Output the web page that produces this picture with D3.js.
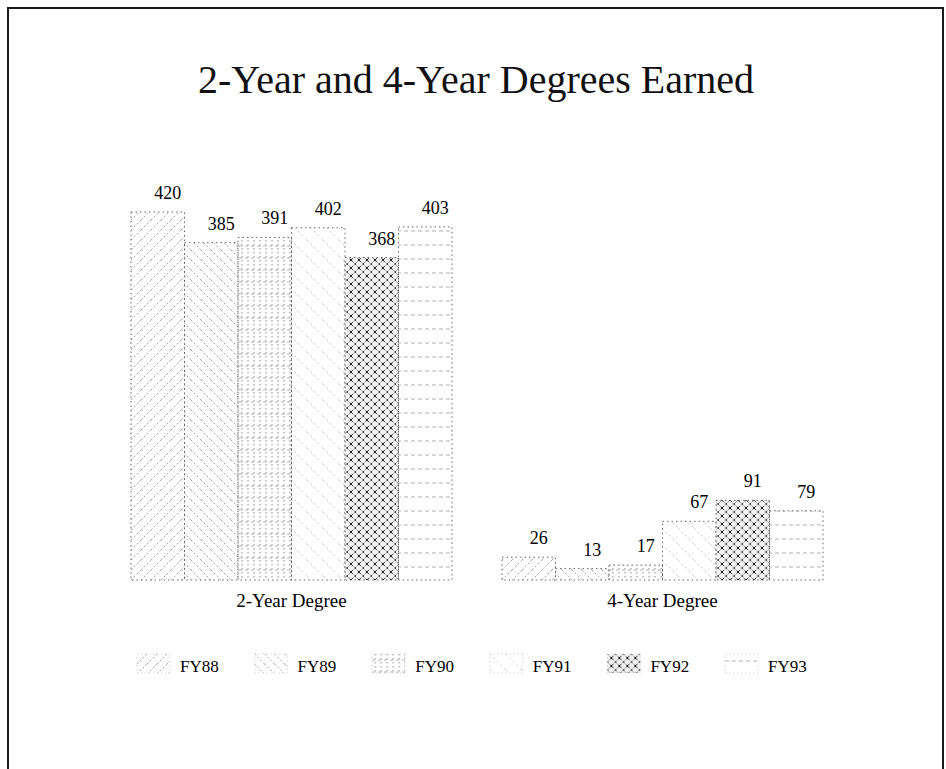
<!DOCTYPE html>
<html>
<head>
<meta charset="utf-8">
<script src="https://cdn.jsdelivr.net/npm/d3@7"></script>
<style>
  html, body { margin: 0; padding: 0; background: #fff; }
  svg { display: block; }
</style>
</head>
<body>
<svg id="chart" width="946" height="769"></svg>
<script>
// Degrees earned, by fiscal year
const categories = ["2-Year Degree", "4-Year Degree"];
const years = ["FY88", "FY89", "FY90", "FY91", "FY92", "FY93"];
const twoYearDegrees = [420, 385, 391, 402, 368, 403];
const fourYearDegrees = [26, 13, 17, 67, 91, 79];
const chartTitle = "2-Year and 4-Year Degrees Earned";

const serif = "Liberation Serif, Times New Roman, serif";

const seriesByCategory = [twoYearDegrees, fourYearDegrees];
const rows = [];
categories.forEach((c, ci) => {
  years.forEach((y, yi) => rows.push({ category: c, year: y, value: seriesByCategory[ci][yi] }));
});

const svg = d3.select("#chart");
const H = 769;
const baseY = 580;

// page frame
svg.append("rect")
  .attr("x", 8).attr("y", 8).attr("width", 935).attr("height", H + 20)
  .attr("fill", "none").attr("stroke", "#1a1a1a").attr("stroke-width", 2);

// hatch fills, one per fiscal year
const defs = svg.append("defs");
function pat(id, size, build) {
  const p = defs.append("pattern").attr("id", id)
    .attr("patternUnits", "userSpaceOnUse").attr("width", size).attr("height", size);
  build(p);
}
pat("p-FY88", 10, p => {
  p.append("path").attr("d", "M0,10 L10,0 M-2,2 L2,-2 M8,12 L12,8")
    .attr("stroke", "#9a9a9a").attr("stroke-width", 0.9).attr("stroke-dasharray", "2,2");
});
pat("p-FY89", 10, p => {
  p.append("path").attr("d", "M0,0 L10,10 M-2,8 L2,12 M8,-2 L12,2")
    .attr("stroke", "#9a9a9a").attr("stroke-width", 0.9).attr("stroke-dasharray", "2,2");
});
pat("p-FY90", 12, p => {
  p.append("path").attr("d", "M3,0 V12 M9,0 V12")
    .attr("stroke", "#8a8a8a").attr("stroke-width", 1).attr("stroke-dasharray", "1.5,2.5");
  p.append("path").attr("d", "M0,6 H12")
    .attr("stroke", "#a5a5a5").attr("stroke-width", 0.9).attr("stroke-dasharray", "3,3");
});
pat("p-FY91", 16, p => {
  p.append("path").attr("d", "M0,0 L16,16")
    .attr("stroke", "#b5b5b5").attr("stroke-width", 0.8).attr("stroke-dasharray", "2,3");
});
pat("p-FY92", 8, p => {
  p.append("rect").attr("width", 8).attr("height", 8).attr("fill", "#f2f2f2");
  p.append("path").attr("d", "M0,0 L8,8 M0,8 L8,0")
    .attr("stroke", "#4a4a4a").attr("stroke-width", 1).attr("stroke-dasharray", "2,1.5");
  p.append("circle").attr("cx", 4).attr("cy", 4).attr("r", 1.2).attr("fill", "#222");
});
pat("p-FY93", 14, p => {
  p.append("path").attr("d", "M0,7 H14")
    .attr("stroke", "#a8a8a8").attr("stroke-width", 0.9).attr("stroke-dasharray", "4,3");
});

// scales
const x0 = d3.scaleBand().domain(categories)
  .range([106, 848]).paddingInner(50 / 371).paddingOuter(25 / 371);
const x1 = d3.scaleBand().domain(years).range([0, x0.bandwidth()]);
const y = d3.scaleLinear().domain([0, 420]).range([baseY, 212]);

// title
svg.append("text")
  .attr("x", 476).attr("y", 93)
  .attr("text-anchor", "middle")
  .attr("font-family", serif)
  .attr("font-size", 40)
  .attr("fill", "#111")
  .text(chartTitle);

// bars
const groups = svg.selectAll("g.cat").data(categories).join("g")
  .attr("class", "cat")
  .attr("transform", d => `translate(${x0(d)},0)`);

groups.selectAll("rect.bar")
  .data(c => rows.filter(r => r.category === c))
  .join("rect")
  .attr("class", "bar")
  .attr("x", d => x1(d.year))
  .attr("y", d => y(d.value))
  .attr("width", x1.bandwidth())
  .attr("height", d => baseY - y(d.value))
  .attr("fill", d => `url(#p-${d.year})`)
  .attr("stroke", "#666")
  .attr("stroke-width", 1)
  .attr("stroke-dasharray", "1.5,3");

// value labels
groups.selectAll("text.val")
  .data(c => rows.filter(r => r.category === c))
  .join("text")
  .attr("class", "val")
  .attr("x", d => x1(d.year) + x1.bandwidth() / 2 + 10)
  .attr("y", d => y(d.value) - 13)
  .attr("text-anchor", "middle")
  .attr("font-family", serif)
  .attr("font-size", 18)
  .attr("fill", "#000")
  .text(d => d.value);

// category axis labels
const xAxis = d3.axisBottom(x0).tickSize(0).tickPadding(0);
const axisG = svg.append("g")
  .attr("transform", `translate(0,${baseY})`)
  .call(xAxis)
  .attr("font-family", serif)
  .attr("font-size", 19);
axisG.select(".domain").remove();
axisG.selectAll("text")
  .attr("dy", null)
  .attr("y", 27)
  .attr("font-family", serif)
  .attr("fill", "#000");

// legend
const legendX = d3.scalePoint().domain(years).range([137, 725]);
const legend = svg.selectAll("g.leg").data(years).join("g")
  .attr("class", "leg")
  .attr("transform", d => `translate(${legendX(d)},654)`);
legend.append("rect")
  .attr("width", 33).attr("height", 19)
  .attr("fill", d => `url(#p-${d})`)
  .attr("stroke", "#bbb").attr("stroke-width", 0.8).attr("stroke-dasharray", "1,3");
legend.append("text")
  .attr("x", 43).attr("y", 18)
  .attr("font-family", serif)
  .attr("font-size", 17)
  .attr("fill", "#000")
  .text(d => d);
</script>
</body>
</html>
